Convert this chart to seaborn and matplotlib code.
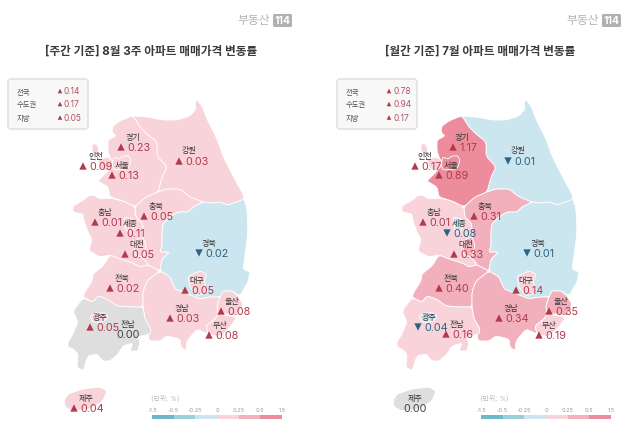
import numpy as np
import pandas as pd
import matplotlib
matplotlib.use('Agg')
import matplotlib.pyplot as plt
from matplotlib.colors import ListedColormap
from matplotlib.patches import FancyBboxPatch, Polygon
import seaborn as sns

sns.set_theme(style='white')
plt.rcParams['font.family'] = ['Inter', 'Noto Sans CJK KR', 'DejaVu Sans']

# values
regions = ['강원', '경기', '인천', '충남', '충북', '경북', '전북', '경남', '전남', '울산', '부산',
           '서울', '세종', '대전', '대구', '광주', '제주']
week_vals = [0.03, 0.23, 0.09, 0.01, 0.05, -0.02, 0.02, 0.03, 0.00, 0.08, 0.08,
             0.13, 0.11, 0.05, 0.05, 0.05, 0.04]
month_vals = [-0.01, 1.17, 0.17, 0.01, 0.31, -0.01, 0.40, 0.34, 0.16, 0.35, 0.19,
              0.89, -0.08, 0.33, 0.14, -0.04, 0.00]

summary_names = ['전국', '수도권', '지방']
week_summary = [0.14, 0.17, 0.05]
month_summary = [0.78, 0.94, 0.17]

scale_edges = [-1.5, -0.5, -0.25, 0, 0.25, 0.5, 1.5]
scale_labels = ['-1.5', '-0.5', '-0.25', '0', '0.25', '0.5', '1.5']
scale_colors = ['#6DB8CB', '#9CCFDD', '#CBE6EF', '#F9D3DA', '#F2B0BC', '#EC8C9C']
zero_color = '#DEDEDE'

# map outlines, left panel pixels
shapes = {
    '강원': [(132, 117), (147, 118), (163, 121), (177, 121), (190, 117), (196, 110), (195, 103), (197, 101),
           (202, 107), (207, 120), (217, 140), (223, 157), (233, 177), (243, 195), (244, 200), (237, 203),
           (228, 206), (220, 203), (212, 204), (203, 203), (190, 198), (180, 190), (167, 190), (158, 193),
           (162, 178), (167, 168), (157, 157), (157, 143), (147, 135), (140, 128), (135, 120)],
    '경기': [(132, 117), (120, 122), (113, 127), (112, 133), (116, 137), (108, 141), (108, 152), (110, 158),
           (112, 163), (108, 172), (100, 180), (98, 182), (108, 188), (110, 198), (123, 202), (135, 208),
           (146, 198), (158, 193), (162, 178), (167, 168), (157, 157), (157, 143), (147, 135), (140, 128),
           (135, 120)],
    '인천': [(92, 145), (97, 145), (99, 152), (96, 157), (92, 152)],
    '충남': [(88, 197), (93, 196), (100, 200), (110, 199), (123, 202), (135, 208), (136, 218), (143, 225),
           (143, 245), (138, 250), (141, 258), (146, 262), (148, 266), (140, 268), (133, 264), (120, 260),
           (110, 256), (100, 258), (89, 252), (92, 240), (88, 233), (84, 222), (83, 215), (73, 213),
           (73, 207), (80, 203), (85, 200)],
    '충북': [(135, 208), (146, 198), (158, 193), (167, 190), (180, 190), (190, 198), (203, 203), (193, 208),
           (188, 213), (178, 213), (170, 218), (163, 225), (162, 233), (162, 247), (160, 253), (170, 253),
           (162, 260), (160, 272), (152, 268), (148, 266), (146, 262), (141, 258), (138, 250), (143, 245),
           (143, 225), (136, 218)],
    '경북': [(244, 200), (247, 210), (248, 233), (245, 257), (243, 270), (250, 273), (248, 283), (240, 297),
           (232, 292), (223, 292), (220, 298), (210, 298), (200, 300), (183, 293), (175, 290), (170, 278),
           (160, 272), (162, 260), (170, 253), (160, 253), (162, 247), (162, 233), (163, 225), (170, 218),
           (178, 213), (188, 213), (193, 208), (203, 203), (212, 204), (220, 203), (228, 206), (237, 203)],
    '전북': [(110, 256), (120, 260), (133, 264), (140, 268), (148, 266), (152, 268), (160, 272), (147, 282),
           (143, 293), (143, 308), (130, 308), (117, 307), (107, 300), (98, 297), (93, 303), (83, 298),
           (85, 293), (92, 282), (93, 275), (103, 267)],
    '경남': [(160, 272), (147, 282), (143, 293), (143, 308), (145, 320), (151, 330), (148, 338), (150, 342),
           (160, 342), (167, 337), (180, 340), (181, 348), (186, 352), (187, 342), (197, 330), (208, 335),
           (206, 327), (215, 320), (218, 315), (217, 307), (220, 298), (210, 298), (200, 300), (183, 293),
           (175, 290), (170, 278)],
    '전남': [(83, 299), (73, 312), (78, 323), (73, 335), (68, 343), (68, 348), (73, 350), (78, 355), (77, 368),
           (83, 372), (88, 357), (97, 355), (103, 362), (110, 362), (118, 355), (123, 347), (133, 344),
           (130, 352), (138, 352), (140, 343), (137, 338), (150, 335), (151, 330), (145, 320), (143, 308),
           (130, 308), (117, 307), (107, 300), (98, 297), (93, 303)],
    '울산': [(223, 292), (232, 292), (238, 297), (243, 305), (238, 317), (230, 315), (218, 315), (217, 307),
           (220, 298)],
    '부산': [(218, 315), (237, 318), (230, 328), (220, 338), (208, 335), (206, 327), (215, 320)],
    '서울': [(114, 158), (119, 160), (123, 157), (129, 157), (131, 162), (128, 170), (114, 171), (112, 165)],
    '세종': [(124, 218), (133, 220), (133, 232), (126, 232)],
    '대전': [(137, 240), (143, 238), (146, 246), (143, 258), (135, 256), (134, 247)],
    '대구': [(188, 277), (200, 272), (207, 275), (204, 283), (208, 293), (197, 297), (190, 288)],
    '광주': [(90, 318), (95, 314), (105, 314), (108, 318), (103, 323), (93, 323)],
    '제주': [(64, 402), (68, 395), (83, 390), (100, 388), (107, 392), (103, 402), (90, 410), (73, 412),
           (65, 408)],
}
incheon_land = [(98, 160), (108, 158), (113, 162), (112, 168), (105, 172), (100, 168)]

# name x, name y, value y, triangle x left, triangle x right
label_pos = {
    '경기': (133, 138, 148, 121, 124), '인천': (96, 157, 167, 83, 86), '서울': (122, 166, 176, 112, 110),
    '강원': (189, 151, 162, 179, 179), '충남': (105, 213, 223, 95, 94), '충북': (156, 207, 217, 144, 145),
    '세종': (130, 224, 234, 120, 118), '대전': (137, 245, 255, 125, 125), '경북': (209, 244, 254, 199, 198),
    '전북': (122, 279, 289, 110, 110), '대구': (197, 281, 291, 185, 187), '울산': (232, 302, 312, 221, 220),
    '경남': (182, 309, 319, 170, 170), '부산': (220, 326, 336, 209, 210), '광주': (100, 318, 328, 90, 89),
    '전남': (128, 325, 335, 120, 117), '제주': (86, 399, 409, 74, 86),
}

up_color = '#B23A4C'
down_color = '#2B6384'
zero_text = '#444444'


def soften(pts):
    # one pass of corner cutting so the outlines are not so angular
    pts = np.array(pts, dtype=float)
    nxt = np.roll(pts, -1, axis=0)
    out = np.empty((len(pts) * 2, 2))
    out[0::2] = 0.85 * pts + 0.15 * nxt
    out[1::2] = 0.15 * pts + 0.85 * nxt
    return out


def region_color(v):
    if v == 0:
        return zero_color
    for i in range(len(scale_colors)):
        if scale_edges[i] <= v < scale_edges[i + 1]:
            return scale_colors[i]
    return scale_colors[-1]


def val_color(v):
    return up_color if v > 0 else down_color if v < 0 else zero_text


def draw_panel(ax, dx, title, vals, summary, tri_idx):
    ax.text(151 + dx, 52, title, ha='center', va='center', fontsize=8.4, color='#3A3A3A', fontweight='bold')

    # logo
    ax.text(254 + dx, 21, '부동산', ha='center', va='center', fontsize=8.5, color='#B4B4B4')
    ax.add_patch(FancyBboxPatch((274.5 + dx, 16.5), 16, 10, boxstyle='round,pad=1.5', fc='#B0B0B0', ec='none'))
    ax.text(282.5 + dx, 21.5, '114', ha='center', va='center', fontsize=7.5, color='white', fontweight='bold')

    # map
    for name, v in zip(regions, vals):
        pts = soften(shapes[name])
        ax.add_patch(Polygon(pts + [dx, 0], closed=True, fc=region_color(v), ec='white', lw=0.6, joinstyle='round'))
        if name == '인천':
            land = soften(incheon_land) + [dx, 0]
            ax.add_patch(Polygon(land, closed=True, fc=region_color(v), ec='white', lw=0.6, zorder=3))

    # summary box
    ax.add_patch(FancyBboxPatch((10 + dx, 82), 76, 46, boxstyle='round,pad=2,rounding_size=3',
                                fc='#F8F8F8', ec='#DCDCDC', lw=1, zorder=4))

    rows = []
    for name, v in zip(regions, vals):
        nx, ny, vy = label_pos[name][:3]
        tx = label_pos[name][tri_idx]
        ax.text(nx + dx, ny, name, ha='center', va='center', fontsize=5.8, color='#333333', zorder=6)
        if v == 0:
            ax.text(nx + dx, vy, '%.2f' % abs(v), ha='center', va='center', fontsize=7.8, color=zero_text, zorder=6)
        else:
            ax.text(tx + 6 + dx, vy, '%.2f' % abs(v), ha='left', va='center', fontsize=7.8, color=val_color(v), zorder=6)
            rows.append({'x': tx + dx, 'y': vy, 'dir': 'up' if v > 0 else 'down', 'sz': 28})

    for i, (name, v) in enumerate(zip(summary_names, summary)):
        y = [92, 105, 118.5][i]
        ax.text(17 + dx, y, name, ha='left', va='center', fontsize=5.3, color='#555555', zorder=6)
        ax.text(64 + dx, y, '%.2f' % v, ha='left', va='center', fontsize=6, color='#B5525F', zorder=6)
        rows.append({'x': 60 + dx, 'y': y, 'dir': 'up', 'sz': 11})

    df = pd.DataFrame(rows)
    sns.scatterplot(data=df, x='x', y='y', hue='dir', style='dir', size='sz', sizes={28: 28, 11: 11},
                    markers={'up': '^', 'down': 'v'}, palette={'up': up_color, 'down': down_color},
                    linewidth=0, legend=False, ax=ax, zorder=7)

    ax.text(151 + dx, 399, '(단위: %)', ha='left', va='center', fontsize=5, color='#BBBBBB')

    # colour scale as a one row heatmap
    cax = fig.add_axes([(152 + dx) / 628, 1 - 420 / 439, 130 / 628, 4 / 439])
    sns.heatmap(np.arange(6).reshape(1, 6), cmap=ListedColormap(scale_colors), cbar=False,
                xticklabels=False, yticklabels=False, ax=cax)
    cax.set_xticks(np.arange(7))
    cax.set_xticklabels(scale_labels, fontsize=4, color='#999999')
    cax.xaxis.tick_top()
    cax.tick_params(axis='x', length=0, pad=2)
    cax.set_xlabel('')
    cax.set_ylabel('')


fig = plt.figure(figsize=(6.28, 4.39), dpi=100)
ax = fig.add_axes([0, 0, 1, 1])
ax.set_xlim(0, 628)
ax.set_ylim(439, 0)

draw_panel(ax, 0, '[주간 기준] 8월 3주 아파트 매매가격 변동률', week_vals, week_summary, 3)
draw_panel(ax, 329, '[월간 기준] 7월 아파트 매매가격 변동률', month_vals, month_summary, 4)

ax.set_xlim(0, 628)
ax.set_ylim(439, 0)
ax.set_xlabel('')
ax.set_ylabel('')
ax.axis('off')

fig.savefig('out.png', dpi=100)
